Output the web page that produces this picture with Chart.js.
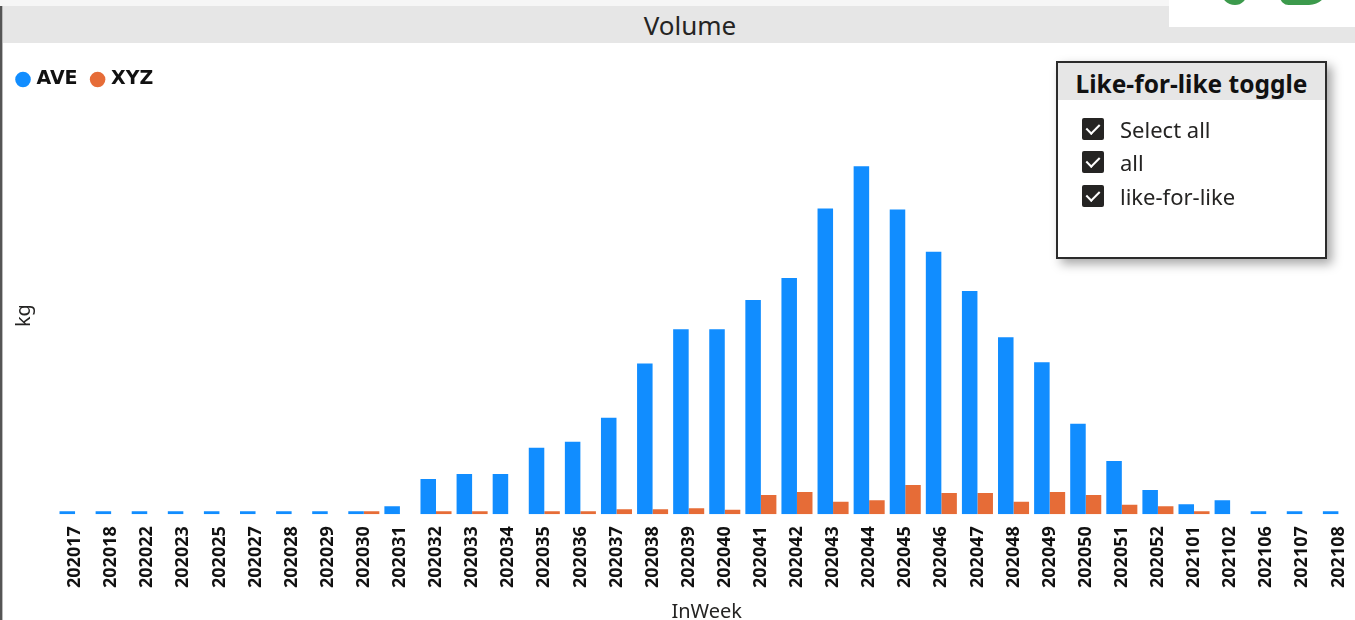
<!DOCTYPE html>
<html>
<head>
<meta charset="utf-8">
<title>Volume</title>
<script src="https://cdn.jsdelivr.net/npm/chart.js@4.4.1/dist/chart.umd.min.js"></script>
<style>
  body { margin: 0; width: 1355px; height: 620px; overflow: hidden; background: #fff; font-family: "Noto Sans", sans-serif; position: relative; }
  #topStrip { position: absolute; left: 0; top: 0; width: 1355px; height: 6px; background: #f6f6f6; }
  #leftBorder { position: absolute; left: 0; top: 6px; width: 3px; height: 614px; background: #555; border-right: 1px solid #bbb; box-sizing: border-box; }
  #titleBar { position: absolute; left: 3px; top: 6px; width: 1352px; height: 37px; padding-left: 22px; box-sizing: border-box; background: #e6e6e6; color: #252423; font-size: 26px; line-height: 39px; text-align: center; }
  #logo { position: absolute; left: 1169px; top: 0; width: 186px; height: 27px; background: #fff; overflow: hidden; }
  .leaf { position: absolute; background: #3c9a4c; }
  /* el lienzo sobresale a la derecha para compensar el margen de la ultima etiqueta */
  #chartBox { position: absolute; left: 3px; top: 43px; width: 1369px; height: 577px; }
  #slicer { position: absolute; left: 1056px; top: 61px; width: 271px; height: 198px; border: 2px solid #2b2b2b; box-sizing: border-box; background: #fff; box-shadow: 5px 5px 10px rgba(0,0,0,0.35); }
  #slicer .head { height: 37px; background: #e6e6e6; color: #111; font-weight: bold; font-size: 24.5px; line-height: 42px; text-align: center; white-space: nowrap; }
  #slicer .item { position: absolute; left: 24px; height: 24px; font-size: 22px; line-height: 24px; color: #252423; }
  #slicer .box { position: absolute; left: 0; top: 1px; width: 22px; height: 22px; background: #252423; border-radius: 2px; }
  #slicer .box::after { content: ""; position: absolute; left: 7px; top: 3px; width: 6px; height: 11px; border: solid #fff; border-width: 0 2px 2px 0; transform: rotate(45deg); }
  #slicer .lbl { position: absolute; left: 38px; top: 0; white-space: nowrap; }
</style>
</head>
<body>
<div id="topStrip"></div>
<div id="titleBar">Volume</div>
<div id="leftBorder"></div>
<div id="logo">
  <div class="leaf" style="left:52px; top:-14px; width:26px; height:19px; border-radius: 0 0 12px 14px;"></div>
  <div class="leaf" style="left:111px; top:-14px; width:48px; height:19px; border-radius: 0 0 22px 10px;"></div>
</div>
<div id="chartBox"><canvas id="volumeChart" width="1369" height="577"></canvas></div>
<div id="slicer">
  <div class="head">Like-for-like toggle</div>
  <div class="item" style="top:54px;"><span class="box"></span><span class="lbl">Select all</span></div>
  <div class="item" style="top:87px;"><span class="box"></span><span class="lbl">all</span></div>
  <div class="item" style="top:121px;"><span class="box"></span><span class="lbl">like-for-like</span></div>
</div>

<script>
// semanas (InWeek)
const semanas = ['202017', '202018', '202022', '202023', '202025', '202027', '202028', '202029', '202030',
    '202031', '202032', '202033', '202034', '202035', '202036', '202037', '202038', '202039', '202040',
    '202041', '202042', '202043', '202044', '202045', '202046', '202047', '202048', '202049', '202050',
    '202051', '202052', '202101', '202102', '202106', '202107', '202108'];

// volumen en kg por serie
const volumenAVE = [300, 300, 300, 300, 300, 300, 300, 300, 300,
    800, 3500, 4000, 4000, 6600, 7200, 9600, 15000, 18400, 18400,
    21300, 23500, 30400, 34600, 30300, 26100, 22200, 17600, 15100, 9000,
    5300, 2400, 1000, 1400, 300, 300, 300];
const volumenXYZ = [null, null, null, null, null, null, null, null, 300,
    null, 300, 300, null, 300, 300, 500, 500, 600, 450,
    1900, 2200, 1250, 1400, 2900, 2100, 2100, 1250, 2200, 1900,
    950, 800, 300, null, null, null, null];

const maxEjeY = 39500;

// separa un poco la leyenda del area del grafico
const margenLeyenda = {
    id: 'margenLeyenda',
    beforeInit(chart) {
        if (!chart.legend) return;
        const fitOriginal = chart.legend.fit;
        chart.legend.fit = function () {
            fitOriginal.bind(chart.legend)();
            this.height += 18;
        };
    }
};

const ctx = document.getElementById('volumeChart').getContext('2d');
const volumenChart = new Chart(ctx, {
    type: 'bar',
    data: {
        labels: semanas,
        datasets: [
            {
                label: 'AVE',
                data: volumenAVE,
                backgroundColor: '#118DFF',
                borderWidth: 0
            },
            {
                label: 'XYZ',
                data: volumenXYZ,
                backgroundColor: '#E66C37',
                borderWidth: 0
            }
        ]
    },
    options: {
        responsive: false,
        animation: false,
        devicePixelRatio: 1,
        layout: { padding: { left: 0, right: 0, top: 11, bottom: 0 } },
        datasets: {
            bar: { barPercentage: 1, categoryPercentage: 0.86 }
        },
        plugins: {
            legend: {
                position: 'top',
                align: 'start',
                labels: {
                    usePointStyle: true,
                    pointStyle: 'circle',
                    boxWidth: 8,
                    boxHeight: 11,
                    padding: 16,
                    color: '#111',
                    font: { family: 'DejaVu Sans', size: 19, weight: 'bold' }
                }
            },
            tooltip: { enabled: false }
        },
        scales: {
            x: {
                grid: { display: false, drawTicks: false },
                border: { display: false },
                ticks: {
                    autoSkip: false,
                    minRotation: 90,
                    maxRotation: 90,
                    padding: 12,
                    color: '#111',
                    font: { family: 'Noto Sans', size: 18, weight: 'bold' }
                },
                title: {
                    display: true,
                    text: 'InWeek',
                    color: '#252423',
                    font: { family: 'Noto Sans', size: 20, lineHeight: 0.8 },
                    padding: { top: 4, bottom: 0 }
                }
            },
            y: {
                min: 0,
                max: maxEjeY,
                grid: { display: false, drawTicks: false },
                border: { display: false },
                ticks: { display: false },
                title: {
                    display: true,
                    text: 'kg',
                    color: '#252423',
                    font: { family: 'Noto Sans', size: 20 },
                    padding: { top: 9, bottom: 21 }
                }
            }
        }
    },
    plugins: [margenLeyenda]
});
</script>
</body>
</html>
